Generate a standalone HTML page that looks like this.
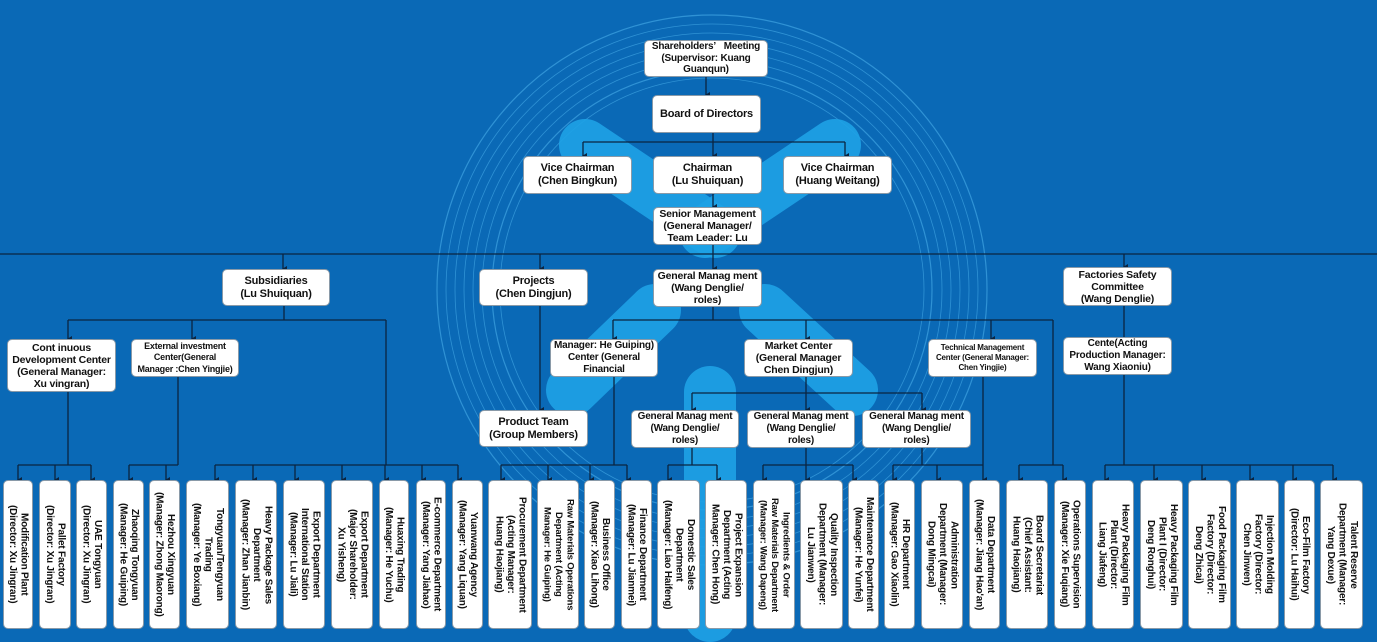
<!DOCTYPE html>
<html style="width:1377px;height:642px;overflow:hidden"><head><meta charset="utf-8"><style>
*{margin:0;padding:0;box-sizing:border-box}
body{width:1377px;height:642px;overflow:hidden;background:#0a69b6;font-family:"Liberation Sans",sans-serif;position:relative}
.b{position:absolute;background:#fff;border:1px solid #8a9aa8;border-radius:5px;display:flex;align-items:center;justify-content:center;text-align:center;font-weight:bold;color:#111;font-size:10.5px;line-height:12px;white-space:nowrap;overflow:hidden;letter-spacing:-0.2px}
.v{position:absolute;top:480px;height:149px;background:#fff;border:1px solid #8a9aa8;border-radius:5px;writing-mode:vertical-rl;text-align:center;font-weight:bold;color:#111;font-size:10px;line-height:11.5px;padding:6px 0;white-space:nowrap;overflow:hidden;letter-spacing:-0.2px;display:flex;justify-content:center;align-items:center}
.v span{display:block}
svg{position:absolute;left:0;top:0;overflow:hidden}
</style></head><body>
<svg width="1377" height="642" viewBox="0 0 1377 642">
<defs>
<marker id="a" markerWidth="6" markerHeight="6" refX="3" refY="5" orient="auto" markerUnits="userSpaceOnUse"><path d="M0,1 L6,1 L3,6 z" fill="#0b2440"/></marker>
</defs>
<g fill="none" stroke="#4fb4ee" stroke-opacity="0.55">
<circle cx="712" cy="290" r="275" stroke-width="1.2"/>
<circle cx="712" cy="290" r="266" stroke-width="0.8"/>
<circle cx="712" cy="290" r="257" stroke-width="0.8"/>
<circle cx="712" cy="290" r="248" stroke-width="0.8"/>
<circle cx="712" cy="290" r="239" stroke-width="0.8"/>
<circle cx="712" cy="290" r="230" stroke-width="0.8"/>
<circle cx="712" cy="290" r="220" stroke-width="1.2"/>
<circle cx="712" cy="290" r="212" stroke-width="0.8"/>
</g>
<g stroke="#1ea2e6" stroke-opacity="0.9" stroke-linecap="round" stroke-width="52">
<line x1="585" y1="145" x2="715" y2="232"/>
<line x1="835" y1="145" x2="705" y2="232"/>
<line x1="655" y1="310" x2="572" y2="390"/>
<line x1="765" y1="310" x2="852" y2="390"/>
</g>
<rect x="684" y="366" width="52" height="276" rx="26" fill="#1ea2e6" fill-opacity="0.9"/>
<g stroke="#0b2440" stroke-width="1.3" fill="none">
<line x1="706" y1="77" x2="706" y2="95" marker-end="url(#a)"/>
<path d="M713 133V142M583 142H845"/>
<line x1="583" y1="142" x2="583" y2="156" marker-end="url(#a)"/>
<line x1="713" y1="142" x2="713" y2="156" marker-end="url(#a)"/>
<line x1="845" y1="142" x2="845" y2="156" marker-end="url(#a)"/>
<line x1="713" y1="194" x2="713" y2="207" marker-end="url(#a)"/>
<path d="M713 245V254M0 254H1377"/>
<line x1="283" y1="254" x2="283" y2="269" marker-end="url(#a)"/>
<line x1="540" y1="254" x2="540" y2="269" marker-end="url(#a)"/>
<line x1="713" y1="254" x2="713" y2="269" marker-end="url(#a)"/>
<line x1="1124" y1="254" x2="1124" y2="267" marker-end="url(#a)"/>
<path d="M284 306V320M68 320H386M386 320V465"/>
<line x1="68" y1="320" x2="68" y2="339" marker-end="url(#a)"/>
<line x1="192" y1="320" x2="192" y2="339" marker-end="url(#a)"/>
<path d="M68 392V465M18 465H91M178 377V465M129 465H178M215 465H458"/>
<line x1="540" y1="306" x2="540" y2="410" marker-end="url(#a)"/>
<path d="M713 307V320M613 320H1053M1053 320V465"/>
<line x1="613" y1="320" x2="613" y2="339" marker-end="url(#a)"/>
<line x1="806" y1="320" x2="806" y2="339" marker-end="url(#a)"/>
<line x1="991" y1="320" x2="991" y2="339" marker-end="url(#a)"/>
<path d="M614 377V465M501 465H627M806 377V393M692 393H922"/>
<line x1="692" y1="393" x2="692" y2="410" marker-end="url(#a)"/>
<line x1="806" y1="393" x2="806" y2="410" marker-end="url(#a)"/>
<line x1="922" y1="393" x2="922" y2="410" marker-end="url(#a)"/>
<path d="M692 448V465M668 465H717M806 448V465M763 465H853M922 448V465M893 465H983M983 377V465M1019 465H1063M1124 306V337"/>
<path d="M1124 375V465M1105 465H1333"/>
</g>
<g stroke="#0b2440" stroke-width="1.3">
<line x1="18" y1="465" x2="18" y2="480" marker-end="url(#a)"/><line x1="55" y1="465" x2="55" y2="480" marker-end="url(#a)"/><line x1="91" y1="465" x2="91" y2="480" marker-end="url(#a)"/>
<line x1="129" y1="465" x2="129" y2="480" marker-end="url(#a)"/><line x1="166" y1="465" x2="166" y2="480" marker-end="url(#a)"/>
<line x1="215" y1="465" x2="215" y2="480" marker-end="url(#a)"/><line x1="253" y1="465" x2="253" y2="480" marker-end="url(#a)"/><line x1="295" y1="465" x2="295" y2="480" marker-end="url(#a)"/><line x1="342" y1="465" x2="342" y2="480" marker-end="url(#a)"/><line x1="385" y1="465" x2="385" y2="480" marker-end="url(#a)"/><line x1="422" y1="465" x2="422" y2="480" marker-end="url(#a)"/><line x1="458" y1="465" x2="458" y2="480" marker-end="url(#a)"/>
<line x1="501" y1="465" x2="501" y2="480" marker-end="url(#a)"/><line x1="548" y1="465" x2="548" y2="480" marker-end="url(#a)"/><line x1="590" y1="465" x2="590" y2="480" marker-end="url(#a)"/><line x1="627" y1="465" x2="627" y2="480" marker-end="url(#a)"/>
<line x1="668" y1="465" x2="668" y2="480" marker-end="url(#a)"/><line x1="717" y1="465" x2="717" y2="480" marker-end="url(#a)"/>
<line x1="763" y1="465" x2="763" y2="480" marker-end="url(#a)"/><line x1="806" y1="465" x2="806" y2="480" marker-end="url(#a)"/><line x1="853" y1="465" x2="853" y2="480" marker-end="url(#a)"/>
<line x1="893" y1="465" x2="893" y2="480" marker-end="url(#a)"/><line x1="937" y1="465" x2="937" y2="480" marker-end="url(#a)"/><line x1="983" y1="465" x2="983" y2="480" marker-end="url(#a)"/>
<line x1="1019" y1="465" x2="1019" y2="480" marker-end="url(#a)"/><line x1="1063" y1="465" x2="1063" y2="480" marker-end="url(#a)"/>
<line x1="1105" y1="465" x2="1105" y2="480" marker-end="url(#a)"/><line x1="1154" y1="465" x2="1154" y2="480" marker-end="url(#a)"/><line x1="1202" y1="465" x2="1202" y2="480" marker-end="url(#a)"/><line x1="1250" y1="465" x2="1250" y2="480" marker-end="url(#a)"/><line x1="1293" y1="465" x2="1293" y2="480" marker-end="url(#a)"/><line x1="1333" y1="465" x2="1333" y2="480" marker-end="url(#a)"/>
</g>
</svg>

<div class="b" style="left:644px;top:40px;width:124px;height:37px;font-size:10px;line-height:11.5px">Shareholders’&nbsp;&nbsp;&nbsp;Meeting<br>(Supervisor: Kuang<br>Guanqun)</div>
<div class="b" style="left:652px;top:95px;width:109px;height:38px;font-size:11px">Board of Directors</div>
<div class="b" style="left:523px;top:156px;width:109px;height:38px;font-size:11px;line-height:13px">Vice Chairman<br>(Chen Bingkun)</div>
<div class="b" style="left:653px;top:156px;width:109px;height:38px;font-size:11px;line-height:13px">Chairman<br>(Lu Shuiquan)</div>
<div class="b" style="left:783px;top:156px;width:109px;height:38px;font-size:11px;line-height:13px">Vice Chairman<br>(Huang Weitang)</div>
<div class="b" style="left:653px;top:207px;width:109px;height:38px">Senior Management<br>(General Manager/<br>Team Leader: Lu</div>
<div class="b" style="left:222px;top:269px;width:108px;height:37px;font-size:11px;line-height:13px">Subsidiaries<br>(Lu Shuiquan)</div>
<div class="b" style="left:479px;top:269px;width:109px;height:37px;font-size:11px;line-height:13px">Projects<br>(Chen Dingjun)</div>
<div class="b" style="left:653px;top:269px;width:109px;height:38px">General Manag ment<br>(Wang Denglie/<br>roles)</div>
<div class="b" style="left:1063px;top:267px;width:109px;height:39px">Factories Safety<br>Committee<br>(Wang Denglie)</div>
<div class="b" style="left:7px;top:339px;width:109px;height:53px">Cont inuous<br>Development Center<br>(General Manager:<br>Xu vingran)</div>
<div class="b" style="left:131px;top:339px;width:108px;height:38px;font-size:9px;line-height:11.5px">External investment<br>Center(General<br>Manager :Chen Yingjie)</div>
<div class="b" style="left:550px;top:339px;width:108px;height:38px;font-size:10px">Manager: He Guiping)<br>Center (General<br>Financial</div>
<div class="b" style="left:744px;top:339px;width:109px;height:38px">Market Center<br>(General Manager<br>Chen Dingjun)</div>
<div class="b" style="left:928px;top:339px;width:109px;height:38px;font-size:8px;line-height:10px">Technical Management<br>Center (General Manager:<br>Chen Yingjie)</div>
<div class="b" style="left:1063px;top:337px;width:109px;height:38px;font-size:10px">Cente(Acting<br>Production Manager:<br>Wang Xiaoniu)</div>
<div class="b" style="left:479px;top:410px;width:109px;height:37px;font-size:11px;line-height:13px">Product Team<br>(Group Members)</div>
<div class="b" style="left:631px;top:410px;width:108px;height:38px;font-size:10px">General Manag ment<br>(Wang Denglie/<br>roles)</div>
<div class="b" style="left:747px;top:410px;width:108px;height:38px;font-size:10px">General Manag ment<br>(Wang Denglie/<br>roles)</div>
<div class="b" style="left:862px;top:410px;width:109px;height:38px;font-size:10px">General Manag ment<br>(Wang Denglie/<br>roles)</div>

<div class="v" style="left:3px;width:30px"><span>Modification Plant<br>(Director: Xu Jingran)</span></div>
<div class="v" style="left:39px;width:32px"><span>Pallet Factory<br>(Director: Xu Jingran)</span></div>
<div class="v" style="left:76px;width:31px"><span>UAE Tongyuan<br>(Director: Xu Jingran)</span></div>
<div class="v" style="left:113px;width:31px"><span>Zhaoqing Tongyuan<br>(Manager: He Guiping)</span></div>
<div class="v" style="left:149px;width:31px"><span>Hezhou Xingyuan<br>(Manager: Zhong Maorong)</span></div>
<div class="v" style="left:186px;width:43px"><span>Tongyuan/Tengyuan<br>Trading<br>(Manager: Ye Boxiang)</span></div>
<div class="v" style="left:235px;width:42px"><span>Heavy Package Sales<br>Department<br>(Manager: Zhan Jianbin)</span></div>
<div class="v" style="left:283px;width:42px"><span>Export Department<br>International Station<br>(Manager: Lu Jiali)</span></div>
<div class="v" style="left:331px;width:42px"><span>Export Department<br>(Major Shareholder:<br>Xu Yisheng)</span></div>
<div class="v" style="left:379px;width:30px"><span>Huaxing Trading<br>(Manager: He Yuchu)</span></div>
<div class="v" style="left:416px;width:30px"><span>E-commerce Department<br>(Manager: Yang Jiahao)</span></div>
<div class="v" style="left:452px;width:31px"><span>Yuanwang Agency<br>(Manager: Yang Liquan)</span></div>
<div class="v" style="left:488px;width:44px"><span>Procurement Department<br>(Acting Manager:<br>Huang Haojiang)</span></div>
<div class="v" style="left:537px;width:42px;font-size:9.5px"><span>Raw Materials Operations<br>Department (Acting<br>Manager: He Guiping)</span></div>
<div class="v" style="left:584px;width:31px"><span>Business Office<br>(Manager: Xiao Lihong)</span></div>
<div class="v" style="left:621px;width:31px"><span>Finance Department<br>(Manager: Lu Jianmei)</span></div>
<div class="v" style="left:657px;width:43px"><span>Domestic Sales<br>Department<br>(Manager: Liao Haifeng)</span></div>
<div class="v" style="left:705px;width:42px"><span>Project Expansion<br>Department (Acting<br>Manager: Chen Hong)</span></div>
<div class="v" style="left:753px;width:42px;font-size:9.5px"><span>Ingredients &amp; Order<br>Raw Materials Department<br>(Manager: Wang Dapeng)</span></div>
<div class="v" style="left:800px;width:43px"><span>Quality Inspection<br>Department (Manager:<br>Lu Jianwen)</span></div>
<div class="v" style="left:848px;width:31px"><span>Maintenance Department<br>(Manager: He Yunfei)</span></div>
<div class="v" style="left:884px;width:31px"><span>HR Department<br>(Manager: Gao Xiaolin)</span></div>
<div class="v" style="left:921px;width:42px"><span>Administration<br>Department (Manager:<br>Dong Mingcai)</span></div>
<div class="v" style="left:969px;width:31px"><span>Data Department<br>(Manager: Jiang Hao'an)</span></div>
<div class="v" style="left:1006px;width:42px"><span>Board Secretariat<br>(Chief Assistant:<br>Huang Haojiang)</span></div>
<div class="v" style="left:1054px;width:32px"><span>Operations Supervision<br>(Manager: Xie Fuqiang)</span></div>
<div class="v" style="left:1092px;width:42px"><span>Heavy Packaging Film<br>Plant (Director:<br>Liang Jiafeng)</span></div>
<div class="v" style="left:1140px;width:43px"><span>Heavy Packaging Film<br>Plant I (Director:<br>Deng Ronghui)</span></div>
<div class="v" style="left:1188px;width:43px"><span>Food Packaging Film<br>Factory (Director:<br>Deng Zhicai)</span></div>
<div class="v" style="left:1236px;width:43px"><span>Injection Molding<br>Factory (Director:<br>Chen Jinwen)</span></div>
<div class="v" style="left:1284px;width:31px"><span>Eco-Film Factory<br>(Director: Lu Haihui)</span></div>
<div class="v" style="left:1320px;width:43px"><span>Talent Reserve<br>Department (Manager:<br>Yang Dexue)</span></div>
</body></html>
